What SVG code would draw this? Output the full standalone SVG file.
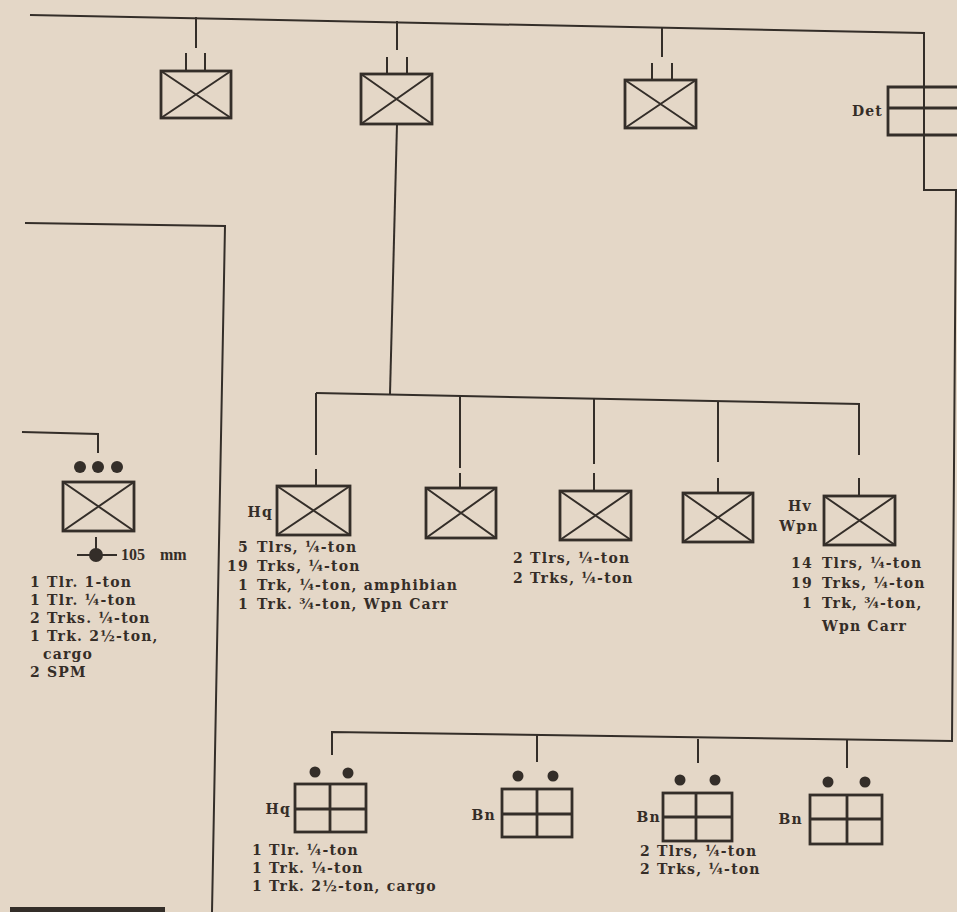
<svg xmlns="http://www.w3.org/2000/svg" width="957" height="912" viewBox="0 0 957 912">
<style>
.ln{stroke:#342e29;stroke-width:2;fill:none}
.bx{stroke:#342e29;stroke-width:2.8;fill:none}
.xd{stroke:#342e29;stroke-width:2;fill:none}
.dot{fill:#342e29}
.t{font-family:"DejaVu Serif",serif;font-weight:bold;font-size:14px;fill:#352d27;letter-spacing:1.2px}
.big{font-family:"Liberation Serif",serif;font-weight:bold;font-size:16px;fill:#352d27}
.e{text-anchor:end}
.m{text-anchor:middle}
</style>
<rect x="0" y="0" width="957" height="912" fill="#e4d7c7"/>

<g id="connectors">
  <polyline class="ln" points="30,15 924,33 924,190 956,190 952,741 332,732 332,755"/>
  <line class="ln" x1="196" y1="17" x2="196" y2="48"/>
  <line class="ln" x1="397" y1="21" x2="397" y2="50"/>
  <line class="ln" x1="662" y1="28" x2="662" y2="57"/>
  <line class="ln" x1="397" y1="124" x2="390" y2="394"/>
  <line class="ln" x1="316" y1="393" x2="860" y2="404"/>
  <line class="ln" x1="316" y1="393" x2="316" y2="455"/>
  <line class="ln" x1="316" y1="469" x2="316" y2="486"/>
  <line class="ln" x1="460" y1="396" x2="460" y2="468"/>
  <line class="ln" x1="460" y1="473" x2="460" y2="488"/>
  <line class="ln" x1="594" y1="399" x2="594" y2="464"/>
  <line class="ln" x1="594" y1="473" x2="594" y2="491"/>
  <line class="ln" x1="718" y1="401" x2="718" y2="462"/>
  <line class="ln" x1="718" y1="478" x2="718" y2="493"/>
  <line class="ln" x1="859" y1="404" x2="859" y2="455"/>
  <line class="ln" x1="859" y1="478" x2="859" y2="496"/>
  <polyline class="ln" points="25,223 225,226 212,912"/>
  <polyline class="ln" points="22,432 98,434 98,453"/>
  <line class="ln" x1="537" y1="735" x2="537" y2="762"/>
  <line class="ln" x1="698" y1="739" x2="698" y2="763"/>
  <line class="ln" x1="847" y1="740" x2="847" y2="768"/>
  <rect x="10" y="907" width="155" height="5" fill="#342e29"/>
</g>

<g id="top-1">
  <line class="ln" x1="186" y1="53" x2="186" y2="71"/>
  <line class="ln" x1="205" y1="53" x2="205" y2="71"/>
  <rect class="bx" x="161" y="71" width="70" height="47"/>
  <path class="xd" d="M161,71 L231,118 M231,71 L161,118"/>
</g>
<g id="top-2">
  <line class="ln" x1="387" y1="57" x2="387" y2="74"/>
  <line class="ln" x1="407" y1="57" x2="407" y2="74"/>
  <rect class="bx" x="361" y="74" width="71" height="50"/>
  <path class="xd" d="M361,74 L432,124 M432,74 L361,124"/>
</g>
<g id="top-3">
  <line class="ln" x1="652" y1="63" x2="652" y2="80"/>
  <line class="ln" x1="672" y1="63" x2="672" y2="80"/>
  <rect class="bx" x="625" y="80" width="71" height="48"/>
  <path class="xd" d="M625,80 L696,128 M696,80 L625,128"/>
</g>
<g id="det">
  <path class="bx" d="M957,87 H888 V135 H957 M888,108 H957"/>
  <text class="t e" x="883" y="116">Det</text>
</g>

<g id="artillery">
  <circle class="dot" cx="80" cy="467" r="6"/>
  <circle class="dot" cx="98" cy="467" r="6"/>
  <circle class="dot" cx="117" cy="467" r="6"/>
  <rect class="bx" x="63" y="482" width="71" height="49"/>
  <path class="xd" d="M63,482 L134,531 M134,482 L63,531"/>
  <line class="ln" x1="96" y1="537" x2="96" y2="550"/>
  <line class="ln" x1="77" y1="555" x2="117" y2="555"/>
  <circle class="dot" cx="96" cy="555" r="7"/>
  <text class="big" x="121" y="560">105</text>
  <text class="big" x="160" y="560">mm</text>
  <text class="t" x="30" y="587">1 Tlr. 1-ton</text>
  <text class="t" x="30" y="605">1 Tlr. ¼-ton</text>
  <text class="t" x="30" y="623">2 Trks. ¼-ton</text>
  <text class="t" x="30" y="641">1 Trk. 2½-ton,</text>
  <text class="t" x="43" y="659">cargo</text>
  <text class="t" x="30" y="677">2 SPM</text>
</g>

<g id="hq-co">
  <rect class="bx" x="277" y="486" width="73" height="49"/>
  <path class="xd" d="M277,486 L350,535 M350,486 L277,535"/>
  <text class="t e" x="273" y="517">Hq</text>
  <text class="t e" x="249" y="552">5</text><text class="t" x="257" y="552">Tlrs, ¼-ton</text>
  <text class="t e" x="249" y="571">19</text><text class="t" x="257" y="571">Trks, ¼-ton</text>
  <text class="t e" x="249" y="590">1</text><text class="t" x="257" y="590">Trk, ¼-ton, amphibian</text>
  <text class="t e" x="249" y="609">1</text><text class="t" x="257" y="609">Trk. ¾-ton, Wpn Carr</text>
</g>
<g id="co-2">
  <rect class="bx" x="426" y="488" width="70" height="50"/>
  <path class="xd" d="M426,488 L496,538 M496,488 L426,538"/>
</g>
<g id="co-3">
  <rect class="bx" x="560" y="491" width="71" height="49"/>
  <path class="xd" d="M560,491 L631,540 M631,491 L560,540"/>
  <text class="t" x="513" y="563">2 Tlrs, ¼-ton</text>
  <text class="t" x="513" y="583">2 Trks, ¼-ton</text>
</g>
<g id="co-4">
  <rect class="bx" x="683" y="493" width="70" height="49"/>
  <path class="xd" d="M683,493 L753,542 M753,493 L683,542"/>
</g>
<g id="hv-wpn">
  <rect class="bx" x="824" y="496" width="71" height="49"/>
  <path class="xd" d="M824,496 L895,545 M895,496 L824,545"/>
  <text class="t m" x="800" y="511">Hv</text>
  <text class="t m" x="799" y="531">Wpn</text>
  <text class="t e" x="813" y="568">14</text><text class="t" x="822" y="568">Tlrs, ¼-ton</text>
  <text class="t e" x="813" y="588">19</text><text class="t" x="822" y="588">Trks, ¼-ton</text>
  <text class="t e" x="813" y="608">1</text><text class="t" x="822" y="608">Trk, ¾-ton,</text>
  <text class="t" x="822" y="631">Wpn Carr</text>
</g>

<g id="hq-bn">
  <circle class="dot" cx="315" cy="772" r="5.5"/>
  <circle class="dot" cx="348" cy="773" r="5.5"/>
  <rect class="bx" x="295" y="784" width="71" height="48"/>
  <path class="bx" d="M295,809 H366 M330,784 V832"/>
  <text class="t e" x="291" y="814">Hq</text>
  <text class="t" x="252" y="855">1 Tlr. ¼-ton</text>
  <text class="t" x="252" y="873">1 Trk.  ¼-ton</text>
  <text class="t" x="252" y="891">1 Trk. 2½-ton, cargo</text>
</g>
<g id="bn-1">
  <circle class="dot" cx="518" cy="776" r="5.5"/>
  <circle class="dot" cx="553" cy="776" r="5.5"/>
  <rect class="bx" x="502" y="789" width="70" height="48"/>
  <path class="bx" d="M502,814 H572 M537,789 V837"/>
  <text class="t e" x="496" y="820">Bn</text>
</g>
<g id="bn-2">
  <circle class="dot" cx="680" cy="780" r="5.5"/>
  <circle class="dot" cx="715" cy="780" r="5.5"/>
  <rect class="bx" x="663" y="793" width="69" height="48"/>
  <path class="bx" d="M663,817 H732 M696,793 V841"/>
  <text class="t e" x="661" y="822">Bn</text>
  <text class="t" x="640" y="856">2 Tlrs, ¼-ton</text>
  <text class="t" x="640" y="874">2 Trks, ¼-ton</text>
</g>
<g id="bn-3">
  <circle class="dot" cx="828" cy="782" r="5.5"/>
  <circle class="dot" cx="865" cy="782" r="5.5"/>
  <rect class="bx" x="810" y="795" width="72" height="49"/>
  <path class="bx" d="M810,819 H882 M847,795 V844"/>
  <text class="t e" x="803" y="824">Bn</text>
</g>
</svg>
